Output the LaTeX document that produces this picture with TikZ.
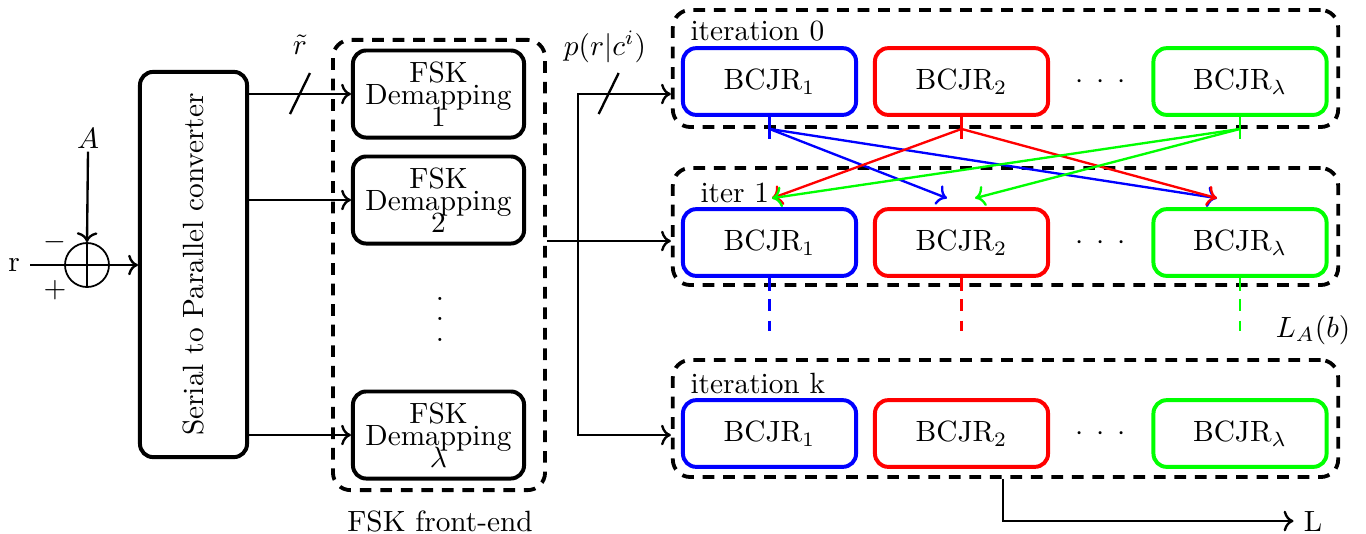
\documentclass[tikz,border=0pt]{standalone}
\usetikzlibrary{arrows.meta}
\begin{document}
\begin{tikzpicture}[x=0.012cm,y=-0.012cm,
  box/.style={draw, line width=1.35pt, rounded corners=4.5pt, inner sep=0pt},
  cont/.style={draw, line width=1.3pt, dash pattern=on 4pt off 3pt, rounded corners=6pt, inner sep=0pt},
  conn/.style={line width=0.8pt},
  arr/.style={conn,->},
  fskbox/.style={box, minimum width=2.052cm, minimum height=1.044cm, align=center},
  bcjr/.style={box, minimum width=2.076cm, minimum height=0.8cm},
  itbox/.style={cont, minimum width=7.98cm, minimum height=1.404cm},
  stubdash/.style={conn, dash pattern=on 4pt off 3.4pt}
]
\useasboundingbox (0,0) rectangle (1366,533);

% input and summing junction
\node[box, minimum width=1.284cm, minimum height=4.62cm] (sp) at (193.5,264.5) {};
\node[rotate=90] (sptext) at (sp.center) {Serial to Parallel converter};
\node[draw, circle, line width=0.6pt, minimum size=0.528cm, inner sep=0pt] (sum) at (87,265) {};
\node (r) at (14,265) {r};
\node[inner sep=1pt] (A) at (88,138) {$A$};
\node (minus) at (55,242) {$-$};
\node (plus) at (55,290) {$+$};
\draw[conn] (sum.north) -- (sum.south);
\draw[arr] (r.east) -- (sum -| sp.west);
\draw[arr] (A.south) -- (sum.north);

% FSK front-end
\node[cont, minimum width=2.544cm, minimum height=5.4cm] (fe) at (439,265) {};
\node[fskbox] (f1) at (438.5,94) {FSK\\[-4.5pt]Demapping\\[-4.5pt]1};
\node[fskbox] (f2) at (438.5,200) {FSK\\[-4.5pt]Demapping\\[-4.5pt]2};
\node[fskbox] (fl) at (438.5,435) {FSK\\[-4.5pt]Demapping\\[-4.5pt]$\lambda$};
\node[align=center] (fdots) at (440,319) {.\\[-5pt].\\[-5pt].};
\node (felab) at (440,521) {FSK front-end};

\draw[arr] (f1.west -| sp.east) -- (f1.west) coordinate[pos=0.5] (s1);
\draw[arr] (f2.west -| sp.east) -- (f2.west);
\draw[arr] (fl.west -| sp.east) -- (fl.west);
\draw[conn] ([shift={(-10,20)}]s1) -- ([shift={(10,-21)}]s1);
\node (rt) at (300,45) {$\tilde r$};

% iteration containers
\node[itbox] (it0) at (1005.5,68.5) {};
\node[itbox] (it1) at (1005.5,226.5) {};
\node[itbox] (itk) at (1005.5,418.5) {};
\node[anchor=west, inner sep=0pt] (l0) at (690,31) {iteration 0};
\node[anchor=west, inner sep=0pt] (l1) at (700,193) {iter 1};
\node[anchor=west, inner sep=0pt] (lk) at (690,383) {iteration k};

% distribution spine
\coordinate (j) at (578,241);
\draw[conn,<->] (itk.west |- fl.west) -- (j |- fl.west) -- (j |- f1.west) -- (it0.west |- f1.west);
\draw[conn] (fe.east |- j) -- (j);
\draw[arr] (j) -- (it1.west |- j);
\path (j |- f1.west) -- (it0.west |- f1.west) coordinate[pos=0.33] (s2);
\draw[conn] ([shift={(-10,20)}]s2) -- ([shift={(10,-21)}]s2);
\node (pr) at (605,47) {$p(r|c^i)$};

% BCJR rows
\foreach \r/\y in {0/81.5, 1/242.5, k/433.5}{
  \node[bcjr, draw=blue] (b\r1) at (769.5,\y) {BCJR$_1$};
  \node[bcjr, draw=red] (b\r2) at (961.5,\y) {BCJR$_2$};
  \node[bcjr, draw=green] (b\r l) at (1240,\y) {BCJR$_\lambda$};
  \node (d\r) at (1100.5,\y) {${\cdot}\hspace{4.5pt}{\cdot}\hspace{4.5pt}{\cdot}$};
}

% iteration 0 -> iteration 1 exchange
\draw[conn, blue] (b01.south) -- ++(0,22);
\draw[conn, red] (b02.south) -- ++(0,22);
\draw[conn, green] (b0l.south) -- ++(0,22);
\draw[arr, blue] (b01.south |- it0.south) -- ([shift={(-14.5,-9)}]b12.north);
\draw[arr, blue] (b01.south |- it0.south) -- ([shift={(-23,-9)}]b1l.north);
\draw[arr, red] (b02.south |- it0.south) -- ([shift={(2.5,-9)}]b11.north);
\draw[arr, red] (b02.south |- it0.south) -- ([shift={(-23,-9)}]b1l.north);
\draw[arr, green] (b0l.south |- it0.south) -- ([shift={(2.5,-9)}]b11.north);
\draw[arr, green] (b0l.south |- it0.south) -- ([shift={(13.5,-9)}]b12.north);

% iteration 1 continuation
\draw[conn, blue] (b11.south) -- ++(0,13);
\draw[conn, red] (b12.south) -- ++(0,13);
\draw[conn, green] (b1l.south) -- ++(0,13);
\draw[stubdash, blue] ([yshift=-21*0.012cm]b11.south) -- ++(0,32);
\draw[stubdash, red] ([yshift=-21*0.012cm]b12.south) -- ++(0,32);
\draw[stubdash, green] ([yshift=-21*0.012cm]b1l.south) -- ++(0,32);
\node (la) at (1313,330) {$L_A(b)$};

% output
\node (L) at (1313,521) {L};
\draw[arr] ([xshift=-2.5*0.012cm]itk.south) |- (L.west);
\end{tikzpicture}
\end{document}
